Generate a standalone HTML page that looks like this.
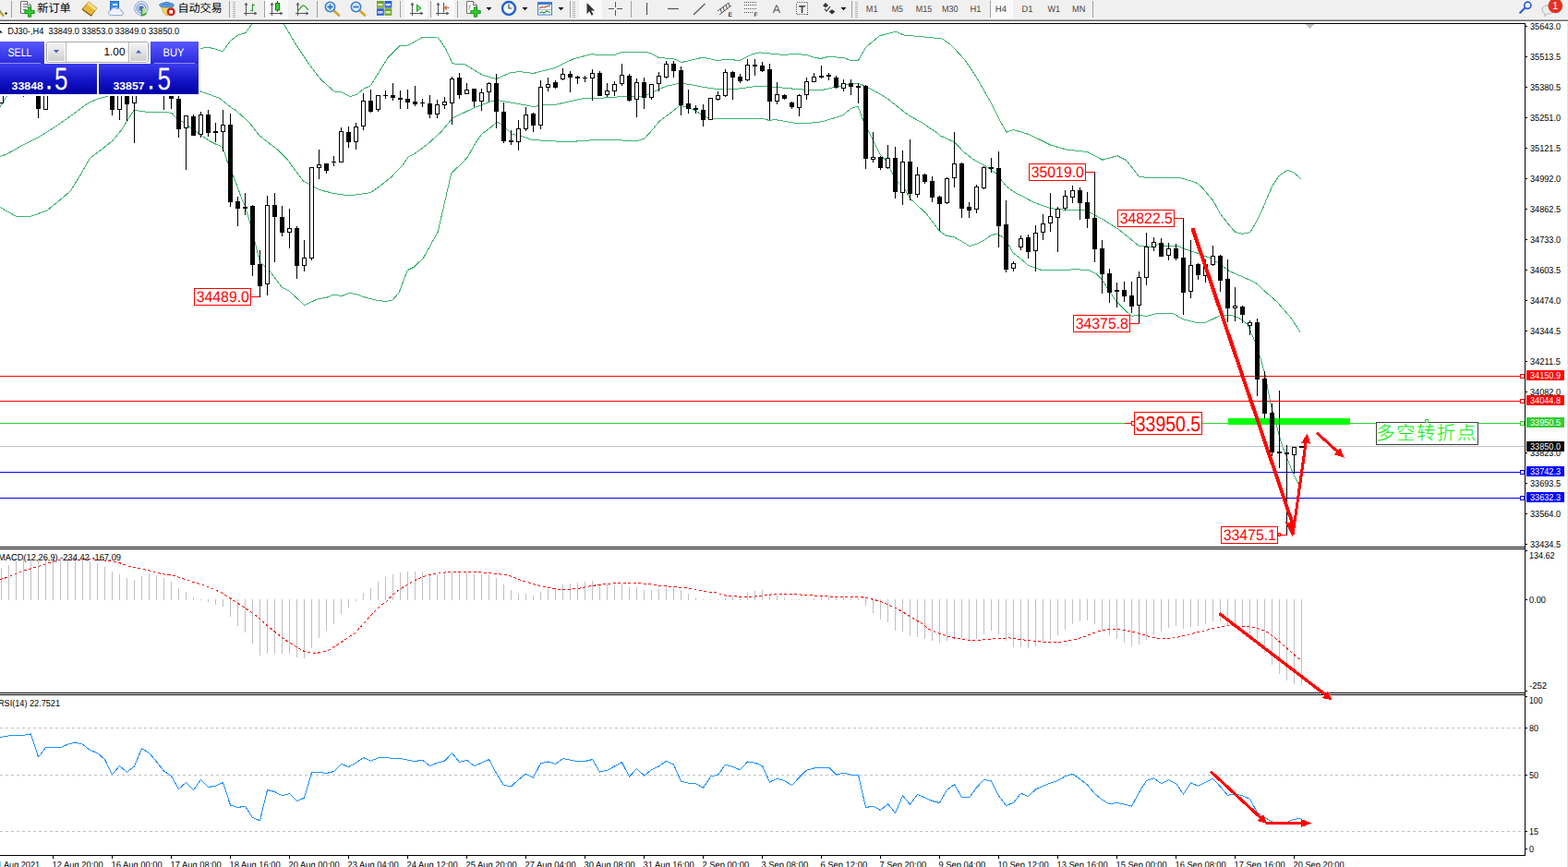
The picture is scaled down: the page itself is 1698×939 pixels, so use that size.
<!DOCTYPE html>
<html><head><meta charset="utf-8"><title>DJ30 H4</title>
<style>
html,body{margin:0;padding:0;background:#fff;}
body{width:1698px;height:939px;overflow:hidden;font-family:"Liberation Sans",sans-serif;}
svg{display:block;position:absolute;left:0;top:0;}
text{font-family:"Liberation Sans",sans-serif;text-rendering:geometricPrecision;}
</style></head><body>
<svg width="1698" height="939" viewBox="0 0 1698 939">
<rect x="0" y="0" width="1698" height="939" fill="#fff"/>
<g fill="none" stroke="#3cb371" stroke-width="1" stroke-linejoin="round" shape-rendering="crispEdges">
<polyline points="0.0,115.6 7.5,104.0 12.0,97.0"/>
<polyline points="217.0,52.5 225.0,51.2 233.0,53.0 241.2,55.8 250.0,43.8 258.0,38.0 266.2,35.5 272.5,26.2 274.0,24.0"/>
<polyline points="306.0,23.0 307.5,26.2 320.0,47.5 335.0,70.0 347.5,86.2 362.5,99.5 370.0,100.0 378.8,104.5 386.2,102.5 393.8,96.2 401.2,93.0 410.0,78.8 420.0,62.5 432.5,50.0 442.5,48.8 457.5,40.5 473.8,40.0 482.5,52.5 490.0,68.8 503.8,70.0 522.5,81.2 537.5,85.5 552.5,78.8 562.5,77.5 577.5,79.5 600.0,73.8 621.0,63.8 641.0,58.5 647.0,59.4 666.0,59.4 673.5,56.2 699.8,56.2 706.0,58.5 713.5,62.5 729.8,63.8 738.5,67.5 761.0,62.2 777.2,65.6 787.2,64.1 801.0,65.6 808.0,62.2 814.0,58.8 822.8,56.9 829.0,57.5 850.2,59.6 859.0,58.1 874.0,59.6 881.5,62.2 889.0,63.4 897.8,61.2 914.0,62.8 921.5,65.4 929.5,65.5 937.5,51.2 952.5,38.8 970.0,34.2 978.8,38.0 1020.0,41.8 1030.0,48.8 1045.0,65.0 1057.5,83.8 1072.5,110.0 1082.5,130.0 1090.0,143.2 1097.5,140.5 1112.5,145.0 1125.0,150.8 1137.5,157.0 1155.0,162.0 1177.5,164.5 1193.8,173.2 1210.0,168.8 1220.0,173.8 1233.8,191.8 1252.5,192.5 1277.5,192.5 1295.0,197.5 1302.0,203.4 1313.8,217.5 1321.2,231.2 1330.0,242.5 1337.5,251.2 1345.0,253.4 1353.8,251.6 1360.0,241.2 1366.2,228.8 1372.5,213.8 1377.5,201.9 1385.0,190.6 1393.8,184.4 1400.0,186.2 1408.8,193.5"/>
<polyline points="0.0,169.4 6.2,167.5 25.0,156.9 42.5,148.1 62.5,135.6 80.0,123.1 95.0,111.9 106.2,106.9 116.2,104.4 120.0,103.0"/>
<polyline points="217.0,98.8 237.5,106.2 250.0,116.2 256.0,120.0 269.8,132.5 281.0,146.9 301.0,162.5 311.0,172.5 321.0,186.2 328.5,196.2 334.8,199.4 346.0,205.6 361.0,209.4 378.5,211.9 401.0,208.8 411.0,201.9 423.5,191.9 436.0,178.8 442.2,170.0 448.0,167.2 463.0,156.2 478.0,142.5 490.0,128.0 513.0,116.9 531.8,109.8 540.0,108.8 556.8,111.6 578.0,115.6 588.0,113.8 600.0,113.5 603.5,112.9 633.5,106.2 646.0,106.6 671.0,104.8 692.2,104.8 702.2,101.9 721.0,93.5 734.8,90.4 746.0,91.2 762.2,94.4 774.8,96.2 796.0,96.6 808.0,95.0 816.5,93.8 829.0,93.5 846.5,95.0 864.0,96.6 879.0,97.8 889.0,97.8 904.0,94.4 916.5,91.9 929.0,90.4 936.5,93.1 945.2,97.5 960.2,106.2 984.0,125.0 999.0,133.1 1016.0,144.8 1018.0,146.9 1033.0,153.5 1044.2,165.0 1055.5,173.8 1066.8,179.4 1079.2,188.1 1089.2,201.2 1097.5,207.5 1120.0,219.4 1137.5,225.6 1152.5,227.2 1173.8,227.2 1180.0,230.0 1195.0,238.1 1212.0,248.8 1233.5,266.5 1246.0,267.2 1254.8,264.4 1262.2,266.5 1276.0,266.5 1283.5,270.0 1299.8,275.0 1311.0,280.0 1319.8,285.0 1331.0,293.5 1346.0,300.0 1359.8,306.2 1373.5,318.8 1383.5,327.5 1398.5,345.0 1408.0,359.8"/>
<polyline points="0.0,224.5 17.0,234.0 34.0,234.0 51.0,228.0 68.0,214.0 76.2,207.0 87.5,188.8 97.5,171.2 110.0,161.9 122.5,151.9 131.2,141.2 137.5,131.2 145.0,119.4 150.0,120.0 158.8,121.2 180.0,121.2 186.2,122.8 191.2,128.1 198.8,132.5 206.2,138.4 212.5,142.5 221.2,148.8 227.5,153.0 233.8,156.2 240.0,158.8 242.5,163.8 246.2,175.0 252.5,190.0 258.8,207.0 261.6,215.0 265.0,222.0 271.0,241.9 276.0,261.9 281.6,283.8 292.2,293.8 305.4,311.2 312.2,314.4 329.8,330.6 344.8,323.5 353.5,322.5 361.0,319.0 369.8,320.6 378.5,317.5 386.0,318.5 393.5,321.5 407.2,325.0 417.2,326.5 425.0,325.0 432.1,316.9 441.2,292.6 448.3,289.2 458.4,279.5 467.5,263.3 474.2,251.2 480.7,222.8 488.8,187.4 500.9,176.3 507.0,169.2 513.0,158.0 521.8,145.0 530.5,138.8 538.0,132.2 543.0,134.4 554.2,145.0 564.2,147.5 576.8,151.6 600.0,152.8 606.0,153.5 621.0,153.5 631.0,152.1 669.8,151.6 678.5,152.5 691.0,152.5 698.0,150.0 706.0,141.2 713.5,131.9 721.0,126.0 728.5,120.6 736.0,114.4 746.0,116.2 758.5,123.1 767.2,128.1 774.8,128.8 808.0,128.5 826.5,128.5 833.4,130.6 839.0,129.4 854.0,132.2 862.8,133.5 875.2,133.5 891.5,131.6 904.0,127.5 912.8,124.8 921.5,117.5 929.0,115.0 934.6,130.0 940.0,141.2 953.0,166.9 959.2,173.8 966.8,188.1 972.4,197.5 980.5,206.2 985.5,215.0 1003.0,231.2 1017.0,250.0 1025.0,255.4 1033.8,256.9 1050.0,266.6 1058.8,263.8 1066.2,259.8 1073.8,254.4 1080.0,253.5 1087.0,257.5 1092.5,265.6 1097.0,273.8 1105.0,280.0 1113.8,287.5 1128.8,292.8 1156.2,292.8 1162.5,291.6 1178.8,292.5 1187.5,296.9 1193.0,302.5 1198.6,311.0 1208.5,326.0 1217.2,334.7 1225.4,342.5 1233.5,341.2 1241.0,342.5 1253.5,339.4 1269.8,339.4 1282.2,346.2 1296.0,349.4 1305.4,349.4 1321.0,341.9 1333.5,341.5 1341.0,343.8 1351.0,351.2 1358.5,368.8 1364.8,387.5 1369.8,405.0 1376.0,437.0 1387.5,480.0 1400.0,512.0 1408.8,530.0"/>
</g>
<g shape-rendering="crispEdges">
<rect x="0" y="407" width="1651" height="1" fill="#ff0000" />
<rect x="0" y="434" width="1651" height="1" fill="#ff0000" />
<rect x="0" y="458" width="1651" height="1" fill="#32cd32" />
<rect x="0" y="483" width="1651" height="1" fill="#c0c0c0" />
<rect x="0" y="511" width="1651" height="1" fill="#0000ff" />
<rect x="0" y="539" width="1651" height="1" fill="#0000ff" />
<rect x="1330" y="453" width="132" height="7" fill="#00ff00" />
</g>
<g shape-rendering="crispEdges">
<rect x="1" y="100" width="1" height="12" fill="#000" />
<rect x="-1" y="100" width="5" height="12" fill="#000" />
<rect x="0" y="101" width="3" height="10" fill="#fff" />
<rect x="25" y="100" width="1" height="5" fill="#000" />
<rect x="41" y="100" width="1" height="28" fill="#000" />
<rect x="39" y="100" width="5" height="18" fill="#000" />
<rect x="49" y="100" width="1" height="19" fill="#000" />
<rect x="47" y="100" width="5" height="19" fill="#000" />
<rect x="48" y="101" width="3" height="17" fill="#fff" />
<rect x="121" y="100" width="1" height="25" fill="#000" />
<rect x="119" y="100" width="5" height="19" fill="#000" />
<rect x="129" y="100" width="1" height="30" fill="#000" />
<rect x="127" y="100" width="5" height="19" fill="#000" />
<rect x="128" y="101" width="3" height="17" fill="#fff" />
<rect x="137" y="100" width="1" height="31" fill="#000" />
<rect x="135" y="100" width="5" height="13" fill="#000" />
<rect x="145" y="100" width="1" height="55" fill="#000" />
<rect x="143" y="100" width="5" height="12" fill="#000" />
<rect x="144" y="101" width="3" height="10" fill="#fff" />
<rect x="177" y="100" width="1" height="19" fill="#000" />
<rect x="185" y="100" width="1" height="18" fill="#000" />
<rect x="183" y="104" width="5" height="3" fill="#000" />
<rect x="193" y="100" width="1" height="49" fill="#000" />
<rect x="191" y="107" width="5" height="33" fill="#000" />
<rect x="201" y="125" width="1" height="59" fill="#000" />
<rect x="199" y="125" width="5" height="14" fill="#000" />
<rect x="200" y="126" width="3" height="12" fill="#fff" />
<rect x="209" y="124" width="1" height="23" fill="#000" />
<rect x="207" y="126" width="5" height="21" fill="#000" />
<rect x="217" y="121" width="1" height="28" fill="#000" />
<rect x="215" y="124" width="5" height="22" fill="#000" />
<rect x="216" y="125" width="3" height="20" fill="#fff" />
<rect x="225" y="119" width="1" height="29" fill="#000" />
<rect x="223" y="124" width="5" height="20" fill="#000" />
<rect x="233" y="133" width="1" height="21" fill="#000" />
<rect x="231" y="142" width="5" height="2" fill="#000" />
<rect x="241" y="119" width="1" height="45" fill="#000" />
<rect x="239" y="135" width="5" height="8" fill="#000" />
<rect x="240" y="136" width="3" height="6" fill="#fff" />
<rect x="249" y="123" width="1" height="101" fill="#000" />
<rect x="247" y="135" width="5" height="84" fill="#000" />
<rect x="257" y="213" width="1" height="32" fill="#000" />
<rect x="255" y="218" width="5" height="8" fill="#000" />
<rect x="265" y="209" width="1" height="24" fill="#000" />
<rect x="263" y="224" width="5" height="2" fill="#000" />
<rect x="273" y="222" width="1" height="77" fill="#000" />
<rect x="271" y="223" width="5" height="64" fill="#000" />
<rect x="281" y="271" width="1" height="51" fill="#000" />
<rect x="279" y="286" width="5" height="24" fill="#000" />
<rect x="289" y="212" width="1" height="108" fill="#000" />
<rect x="287" y="222" width="5" height="86" fill="#000" />
<rect x="288" y="223" width="3" height="84" fill="#fff" />
<rect x="297" y="209" width="1" height="75" fill="#000" />
<rect x="295" y="222" width="5" height="13" fill="#000" />
<rect x="305" y="223" width="1" height="33" fill="#000" />
<rect x="303" y="235" width="5" height="17" fill="#000" />
<rect x="313" y="226" width="1" height="43" fill="#000" />
<rect x="311" y="247" width="5" height="5" fill="#000" />
<rect x="312" y="248" width="3" height="3" fill="#fff" />
<rect x="321" y="245" width="1" height="57" fill="#000" />
<rect x="319" y="247" width="5" height="41" fill="#000" />
<rect x="329" y="260" width="1" height="34" fill="#000" />
<rect x="327" y="279" width="5" height="9" fill="#000" />
<rect x="328" y="280" width="3" height="7" fill="#fff" />
<rect x="337" y="181" width="1" height="101" fill="#000" />
<rect x="335" y="181" width="5" height="99" fill="#000" />
<rect x="336" y="182" width="3" height="97" fill="#fff" />
<rect x="345" y="162" width="1" height="32" fill="#000" />
<rect x="343" y="178" width="5" height="4" fill="#000" />
<rect x="344" y="179" width="3" height="2" fill="#fff" />
<rect x="353" y="177" width="1" height="11" fill="#000" />
<rect x="351" y="177" width="5" height="8" fill="#000" />
<rect x="361" y="169" width="1" height="11" fill="#000" />
<rect x="359" y="175" width="5" height="1" fill="#000" />
<rect x="369" y="138" width="1" height="38" fill="#000" />
<rect x="367" y="142" width="5" height="34" fill="#000" />
<rect x="368" y="143" width="3" height="32" fill="#fff" />
<rect x="377" y="137" width="1" height="23" fill="#000" />
<rect x="375" y="143" width="5" height="11" fill="#000" />
<rect x="385" y="133" width="1" height="29" fill="#000" />
<rect x="383" y="137" width="5" height="17" fill="#000" />
<rect x="384" y="138" width="3" height="15" fill="#fff" />
<rect x="393" y="101" width="1" height="40" fill="#000" />
<rect x="391" y="109" width="5" height="28" fill="#000" />
<rect x="392" y="110" width="3" height="26" fill="#fff" />
<rect x="401" y="97" width="1" height="25" fill="#000" />
<rect x="399" y="109" width="5" height="12" fill="#000" />
<rect x="409" y="103" width="1" height="18" fill="#000" />
<rect x="407" y="103" width="5" height="16" fill="#000" />
<rect x="408" y="104" width="3" height="14" fill="#fff" />
<rect x="417" y="98" width="1" height="9" fill="#000" />
<rect x="415" y="103" width="5" height="1" fill="#000" />
<rect x="425" y="90" width="1" height="19" fill="#000" />
<rect x="423" y="103" width="5" height="3" fill="#000" />
<rect x="433" y="98" width="1" height="20" fill="#000" />
<rect x="431" y="106" width="5" height="2" fill="#000" />
<rect x="441" y="97" width="1" height="21" fill="#000" />
<rect x="439" y="107" width="5" height="4" fill="#000" />
<rect x="449" y="93" width="1" height="22" fill="#000" />
<rect x="447" y="110" width="5" height="3" fill="#000" />
<rect x="457" y="107" width="1" height="9" fill="#000" />
<rect x="455" y="111" width="5" height="1" fill="#000" />
<rect x="465" y="103" width="1" height="25" fill="#000" />
<rect x="463" y="112" width="5" height="12" fill="#000" />
<rect x="473" y="108" width="1" height="20" fill="#000" />
<rect x="471" y="113" width="5" height="11" fill="#000" />
<rect x="472" y="114" width="3" height="9" fill="#fff" />
<rect x="481" y="105" width="1" height="13" fill="#000" />
<rect x="479" y="110" width="5" height="4" fill="#000" />
<rect x="480" y="111" width="3" height="2" fill="#fff" />
<rect x="489" y="83" width="1" height="52" fill="#000" />
<rect x="487" y="85" width="5" height="27" fill="#000" />
<rect x="488" y="86" width="3" height="25" fill="#fff" />
<rect x="497" y="79" width="1" height="28" fill="#000" />
<rect x="495" y="84" width="5" height="19" fill="#000" />
<rect x="505" y="90" width="1" height="12" fill="#000" />
<rect x="503" y="97" width="5" height="5" fill="#000" />
<rect x="504" y="98" width="3" height="3" fill="#fff" />
<rect x="513" y="96" width="1" height="20" fill="#000" />
<rect x="511" y="96" width="5" height="14" fill="#000" />
<rect x="521" y="96" width="1" height="24" fill="#000" />
<rect x="519" y="100" width="5" height="10" fill="#000" />
<rect x="520" y="101" width="3" height="8" fill="#fff" />
<rect x="529" y="89" width="1" height="21" fill="#000" />
<rect x="527" y="90" width="5" height="10" fill="#000" />
<rect x="528" y="91" width="3" height="8" fill="#fff" />
<rect x="537" y="80" width="1" height="59" fill="#000" />
<rect x="535" y="90" width="5" height="31" fill="#000" />
<rect x="545" y="111" width="1" height="44" fill="#000" />
<rect x="543" y="121" width="5" height="32" fill="#000" />
<rect x="553" y="141" width="1" height="16" fill="#000" />
<rect x="551" y="152" width="5" height="2" fill="#000" />
<rect x="561" y="130" width="1" height="33" fill="#000" />
<rect x="559" y="139" width="5" height="15" fill="#000" />
<rect x="560" y="140" width="3" height="13" fill="#fff" />
<rect x="569" y="116" width="1" height="26" fill="#000" />
<rect x="567" y="124" width="5" height="16" fill="#000" />
<rect x="568" y="125" width="3" height="14" fill="#fff" />
<rect x="577" y="122" width="1" height="21" fill="#000" />
<rect x="575" y="123" width="5" height="13" fill="#000" />
<rect x="585" y="87" width="1" height="53" fill="#000" />
<rect x="583" y="94" width="5" height="42" fill="#000" />
<rect x="584" y="95" width="3" height="40" fill="#fff" />
<rect x="593" y="84" width="1" height="15" fill="#000" />
<rect x="591" y="91" width="5" height="4" fill="#000" />
<rect x="592" y="92" width="3" height="2" fill="#fff" />
<rect x="601" y="87" width="1" height="9" fill="#000" />
<rect x="599" y="89" width="5" height="6" fill="#000" />
<rect x="609" y="74" width="1" height="13" fill="#000" />
<rect x="607" y="80" width="5" height="6" fill="#000" />
<rect x="608" y="81" width="3" height="4" fill="#fff" />
<rect x="617" y="77" width="1" height="23" fill="#000" />
<rect x="615" y="80" width="5" height="4" fill="#000" />
<rect x="625" y="82" width="1" height="9" fill="#000" />
<rect x="623" y="83" width="5" height="2" fill="#000" />
<rect x="633" y="82" width="1" height="7" fill="#000" />
<rect x="631" y="84" width="5" height="1" fill="#000" />
<rect x="641" y="75" width="1" height="34" fill="#000" />
<rect x="639" y="79" width="5" height="6" fill="#000" />
<rect x="640" y="80" width="3" height="4" fill="#fff" />
<rect x="649" y="77" width="1" height="27" fill="#000" />
<rect x="647" y="79" width="5" height="25" fill="#000" />
<rect x="657" y="90" width="1" height="15" fill="#000" />
<rect x="655" y="98" width="5" height="5" fill="#000" />
<rect x="656" y="99" width="3" height="3" fill="#fff" />
<rect x="665" y="88" width="1" height="16" fill="#000" />
<rect x="663" y="91" width="5" height="8" fill="#000" />
<rect x="664" y="92" width="3" height="6" fill="#fff" />
<rect x="673" y="69" width="1" height="24" fill="#000" />
<rect x="671" y="81" width="5" height="10" fill="#000" />
<rect x="672" y="82" width="3" height="8" fill="#fff" />
<rect x="681" y="80" width="1" height="30" fill="#000" />
<rect x="679" y="82" width="5" height="27" fill="#000" />
<rect x="689" y="85" width="1" height="42" fill="#000" />
<rect x="687" y="89" width="5" height="19" fill="#000" />
<rect x="688" y="90" width="3" height="17" fill="#fff" />
<rect x="697" y="84" width="1" height="34" fill="#000" />
<rect x="695" y="89" width="5" height="17" fill="#000" />
<rect x="705" y="91" width="1" height="17" fill="#000" />
<rect x="703" y="91" width="5" height="15" fill="#000" />
<rect x="704" y="92" width="3" height="13" fill="#fff" />
<rect x="713" y="78" width="1" height="21" fill="#000" />
<rect x="711" y="82" width="5" height="9" fill="#000" />
<rect x="712" y="83" width="3" height="7" fill="#fff" />
<rect x="721" y="66" width="1" height="19" fill="#000" />
<rect x="719" y="69" width="5" height="15" fill="#000" />
<rect x="720" y="70" width="3" height="13" fill="#fff" />
<rect x="729" y="66" width="1" height="18" fill="#000" />
<rect x="727" y="69" width="5" height="8" fill="#000" />
<rect x="737" y="72" width="1" height="53" fill="#000" />
<rect x="735" y="76" width="5" height="38" fill="#000" />
<rect x="745" y="97" width="1" height="26" fill="#000" />
<rect x="743" y="112" width="5" height="6" fill="#000" />
<rect x="753" y="114" width="1" height="9" fill="#000" />
<rect x="751" y="117" width="5" height="2" fill="#000" />
<rect x="761" y="113" width="1" height="24" fill="#000" />
<rect x="759" y="119" width="5" height="11" fill="#000" />
<rect x="769" y="106" width="1" height="24" fill="#000" />
<rect x="767" y="106" width="5" height="24" fill="#000" />
<rect x="768" y="107" width="3" height="22" fill="#fff" />
<rect x="777" y="99" width="1" height="10" fill="#000" />
<rect x="775" y="103" width="5" height="5" fill="#000" />
<rect x="776" y="104" width="3" height="3" fill="#fff" />
<rect x="785" y="75" width="1" height="30" fill="#000" />
<rect x="783" y="78" width="5" height="26" fill="#000" />
<rect x="784" y="79" width="3" height="24" fill="#fff" />
<rect x="793" y="77" width="1" height="31" fill="#000" />
<rect x="791" y="78" width="5" height="6" fill="#000" />
<rect x="801" y="80" width="1" height="10" fill="#000" />
<rect x="799" y="83" width="5" height="5" fill="#000" />
<rect x="809" y="64" width="1" height="24" fill="#000" />
<rect x="807" y="70" width="5" height="17" fill="#000" />
<rect x="808" y="71" width="3" height="15" fill="#fff" />
<rect x="817" y="64" width="1" height="18" fill="#000" />
<rect x="815" y="70" width="5" height="2" fill="#000" />
<rect x="825" y="67" width="1" height="11" fill="#000" />
<rect x="823" y="71" width="5" height="6" fill="#000" />
<rect x="833" y="69" width="1" height="61" fill="#000" />
<rect x="831" y="75" width="5" height="35" fill="#000" />
<rect x="841" y="89" width="1" height="24" fill="#000" />
<rect x="839" y="102" width="5" height="8" fill="#000" />
<rect x="840" y="103" width="3" height="6" fill="#fff" />
<rect x="849" y="102" width="1" height="6" fill="#000" />
<rect x="847" y="103" width="5" height="4" fill="#000" />
<rect x="857" y="110" width="1" height="8" fill="#000" />
<rect x="855" y="111" width="5" height="5" fill="#000" />
<rect x="865" y="102" width="1" height="24" fill="#000" />
<rect x="863" y="103" width="5" height="14" fill="#000" />
<rect x="864" y="104" width="3" height="12" fill="#fff" />
<rect x="873" y="84" width="1" height="24" fill="#000" />
<rect x="871" y="88" width="5" height="15" fill="#000" />
<rect x="872" y="89" width="3" height="13" fill="#fff" />
<rect x="881" y="79" width="1" height="10" fill="#000" />
<rect x="879" y="83" width="5" height="6" fill="#000" />
<rect x="880" y="84" width="3" height="4" fill="#fff" />
<rect x="889" y="71" width="1" height="14" fill="#000" />
<rect x="887" y="82" width="5" height="2" fill="#000" />
<rect x="897" y="79" width="1" height="8" fill="#000" />
<rect x="895" y="81" width="5" height="2" fill="#000" />
<rect x="905" y="82" width="1" height="14" fill="#000" />
<rect x="903" y="84" width="5" height="11" fill="#000" />
<rect x="913" y="86" width="1" height="13" fill="#000" />
<rect x="911" y="90" width="5" height="6" fill="#000" />
<rect x="912" y="91" width="3" height="4" fill="#fff" />
<rect x="921" y="86" width="1" height="17" fill="#000" />
<rect x="919" y="90" width="5" height="4" fill="#000" />
<rect x="929" y="90" width="1" height="22" fill="#000" />
<rect x="927" y="93" width="5" height="2" fill="#000" />
<rect x="937" y="92" width="1" height="91" fill="#000" />
<rect x="935" y="93" width="5" height="79" fill="#000" />
<rect x="945" y="143" width="1" height="33" fill="#000" />
<rect x="943" y="170" width="5" height="3" fill="#000" />
<rect x="944" y="171" width="3" height="1" fill="#fff" />
<rect x="953" y="169" width="1" height="15" fill="#000" />
<rect x="951" y="170" width="5" height="12" fill="#000" />
<rect x="961" y="157" width="1" height="26" fill="#000" />
<rect x="959" y="171" width="5" height="11" fill="#000" />
<rect x="960" y="172" width="3" height="9" fill="#fff" />
<rect x="969" y="159" width="1" height="56" fill="#000" />
<rect x="967" y="171" width="5" height="37" fill="#000" />
<rect x="977" y="163" width="1" height="59" fill="#000" />
<rect x="975" y="175" width="5" height="34" fill="#000" />
<rect x="976" y="176" width="3" height="32" fill="#fff" />
<rect x="985" y="151" width="1" height="66" fill="#000" />
<rect x="983" y="175" width="5" height="35" fill="#000" />
<rect x="993" y="181" width="1" height="33" fill="#000" />
<rect x="991" y="189" width="5" height="22" fill="#000" />
<rect x="992" y="190" width="3" height="20" fill="#fff" />
<rect x="1001" y="188" width="1" height="11" fill="#000" />
<rect x="999" y="189" width="5" height="8" fill="#000" />
<rect x="1009" y="191" width="1" height="28" fill="#000" />
<rect x="1007" y="196" width="5" height="18" fill="#000" />
<rect x="1017" y="212" width="1" height="38" fill="#000" />
<rect x="1015" y="213" width="5" height="8" fill="#000" />
<rect x="1025" y="192" width="1" height="29" fill="#000" />
<rect x="1023" y="193" width="5" height="27" fill="#000" />
<rect x="1024" y="194" width="3" height="25" fill="#fff" />
<rect x="1033" y="143" width="1" height="60" fill="#000" />
<rect x="1031" y="177" width="5" height="16" fill="#000" />
<rect x="1032" y="178" width="3" height="14" fill="#fff" />
<rect x="1041" y="176" width="1" height="60" fill="#000" />
<rect x="1039" y="177" width="5" height="49" fill="#000" />
<rect x="1049" y="219" width="1" height="17" fill="#000" />
<rect x="1047" y="224" width="5" height="4" fill="#000" />
<rect x="1057" y="200" width="1" height="31" fill="#000" />
<rect x="1055" y="202" width="5" height="25" fill="#000" />
<rect x="1056" y="203" width="3" height="23" fill="#fff" />
<rect x="1065" y="180" width="1" height="25" fill="#000" />
<rect x="1063" y="181" width="5" height="23" fill="#000" />
<rect x="1064" y="182" width="3" height="21" fill="#fff" />
<rect x="1073" y="171" width="1" height="16" fill="#000" />
<rect x="1071" y="181" width="5" height="2" fill="#000" />
<rect x="1081" y="164" width="1" height="104" fill="#000" />
<rect x="1079" y="182" width="5" height="63" fill="#000" />
<rect x="1089" y="217" width="1" height="78" fill="#000" />
<rect x="1087" y="243" width="5" height="49" fill="#000" />
<rect x="1097" y="283" width="1" height="11" fill="#000" />
<rect x="1095" y="285" width="5" height="6" fill="#000" />
<rect x="1096" y="286" width="3" height="4" fill="#fff" />
<rect x="1105" y="255" width="1" height="16" fill="#000" />
<rect x="1103" y="258" width="5" height="10" fill="#000" />
<rect x="1104" y="259" width="3" height="8" fill="#fff" />
<rect x="1113" y="254" width="1" height="26" fill="#000" />
<rect x="1111" y="257" width="5" height="16" fill="#000" />
<rect x="1121" y="244" width="1" height="50" fill="#000" />
<rect x="1119" y="252" width="5" height="20" fill="#000" />
<rect x="1120" y="253" width="3" height="18" fill="#fff" />
<rect x="1129" y="232" width="1" height="28" fill="#000" />
<rect x="1127" y="242" width="5" height="10" fill="#000" />
<rect x="1128" y="243" width="3" height="8" fill="#fff" />
<rect x="1137" y="209" width="1" height="42" fill="#000" />
<rect x="1135" y="234" width="5" height="8" fill="#000" />
<rect x="1136" y="235" width="3" height="6" fill="#fff" />
<rect x="1145" y="224" width="1" height="49" fill="#000" />
<rect x="1143" y="226" width="5" height="10" fill="#000" />
<rect x="1144" y="227" width="3" height="8" fill="#fff" />
<rect x="1153" y="206" width="1" height="22" fill="#000" />
<rect x="1151" y="212" width="5" height="14" fill="#000" />
<rect x="1152" y="213" width="3" height="12" fill="#fff" />
<rect x="1161" y="201" width="1" height="19" fill="#000" />
<rect x="1159" y="206" width="5" height="8" fill="#000" />
<rect x="1160" y="207" width="3" height="6" fill="#fff" />
<rect x="1169" y="203" width="1" height="35" fill="#000" />
<rect x="1167" y="206" width="5" height="14" fill="#000" />
<rect x="1177" y="208" width="1" height="39" fill="#000" />
<rect x="1175" y="219" width="5" height="18" fill="#000" />
<rect x="1185" y="186" width="1" height="98" fill="#000" />
<rect x="1183" y="236" width="5" height="34" fill="#000" />
<rect x="1193" y="260" width="1" height="58" fill="#000" />
<rect x="1191" y="269" width="5" height="28" fill="#000" />
<rect x="1201" y="291" width="1" height="37" fill="#000" />
<rect x="1199" y="296" width="5" height="21" fill="#000" />
<rect x="1209" y="306" width="1" height="27" fill="#000" />
<rect x="1207" y="314" width="5" height="2" fill="#000" />
<rect x="1217" y="305" width="1" height="22" fill="#000" />
<rect x="1215" y="314" width="5" height="7" fill="#000" />
<rect x="1225" y="305" width="1" height="34" fill="#000" />
<rect x="1223" y="320" width="5" height="12" fill="#000" />
<rect x="1233" y="294" width="1" height="56" fill="#000" />
<rect x="1231" y="300" width="5" height="31" fill="#000" />
<rect x="1232" y="301" width="3" height="29" fill="#fff" />
<rect x="1241" y="252" width="1" height="57" fill="#000" />
<rect x="1239" y="267" width="5" height="34" fill="#000" />
<rect x="1240" y="268" width="3" height="32" fill="#fff" />
<rect x="1249" y="257" width="1" height="15" fill="#000" />
<rect x="1247" y="262" width="5" height="6" fill="#000" />
<rect x="1248" y="263" width="3" height="4" fill="#fff" />
<rect x="1257" y="258" width="1" height="20" fill="#000" />
<rect x="1255" y="263" width="5" height="15" fill="#000" />
<rect x="1265" y="263" width="1" height="19" fill="#000" />
<rect x="1263" y="269" width="5" height="8" fill="#000" />
<rect x="1264" y="270" width="3" height="6" fill="#fff" />
<rect x="1273" y="264" width="1" height="18" fill="#000" />
<rect x="1271" y="269" width="5" height="11" fill="#000" />
<rect x="1281" y="236" width="1" height="105" fill="#000" />
<rect x="1279" y="279" width="5" height="38" fill="#000" />
<rect x="1289" y="260" width="1" height="63" fill="#000" />
<rect x="1287" y="287" width="5" height="29" fill="#000" />
<rect x="1288" y="288" width="3" height="27" fill="#fff" />
<rect x="1297" y="285" width="1" height="18" fill="#000" />
<rect x="1295" y="286" width="5" height="12" fill="#000" />
<rect x="1305" y="281" width="1" height="25" fill="#000" />
<rect x="1303" y="286" width="5" height="13" fill="#000" />
<rect x="1304" y="287" width="3" height="11" fill="#fff" />
<rect x="1313" y="266" width="1" height="22" fill="#000" />
<rect x="1311" y="277" width="5" height="10" fill="#000" />
<rect x="1312" y="278" width="3" height="8" fill="#fff" />
<rect x="1321" y="276" width="1" height="40" fill="#000" />
<rect x="1319" y="277" width="5" height="27" fill="#000" />
<rect x="1329" y="281" width="1" height="68" fill="#000" />
<rect x="1327" y="302" width="5" height="32" fill="#000" />
<rect x="1337" y="311" width="1" height="37" fill="#000" />
<rect x="1335" y="331" width="5" height="3" fill="#000" />
<rect x="1336" y="332" width="3" height="1" fill="#fff" />
<rect x="1345" y="331" width="1" height="19" fill="#000" />
<rect x="1343" y="332" width="5" height="9" fill="#000" />
<rect x="1353" y="347" width="1" height="16" fill="#000" />
<rect x="1351" y="349" width="5" height="4" fill="#000" />
<rect x="1352" y="350" width="3" height="2" fill="#fff" />
<rect x="1361" y="345" width="1" height="84" fill="#000" />
<rect x="1359" y="349" width="5" height="62" fill="#000" />
<rect x="1369" y="402" width="1" height="51" fill="#000" />
<rect x="1367" y="410" width="5" height="38" fill="#000" />
<rect x="1377" y="437" width="1" height="57" fill="#000" />
<rect x="1375" y="447" width="5" height="43" fill="#000" />
<rect x="1385" y="423" width="1" height="84" fill="#000" />
<rect x="1383" y="489" width="5" height="2" fill="#000" />
<rect x="1393" y="482" width="1" height="98" fill="#000" />
<rect x="1391" y="490" width="5" height="2" fill="#000" />
<rect x="1401" y="484" width="1" height="29" fill="#000" />
<rect x="1399" y="484" width="5" height="9" fill="#000" />
<rect x="1400" y="485" width="3" height="7" fill="#fff" />
<rect x="1409" y="483" width="1" height="2" fill="#000" />
<rect x="1407" y="483" width="5" height="2" fill="#000" />
</g>
<g shape-rendering="crispEdges">
<rect x="272" y="321" width="9" height="1" fill="#ff0000" />
<rect x="1176" y="186" width="10" height="1" fill="#ff0000" />
<rect x="1272" y="236" width="10" height="1" fill="#ff0000" />
<rect x="1224" y="350" width="10" height="1" fill="#ff0000" />
<rect x="1384" y="579" width="10" height="1" fill="#ff0000" />
<rect x="1218" y="458" width="8" height="1" fill="#ff0000" />
</g>
<rect x="210.5" y="312.5" width="61" height="18" fill="#fff" stroke="#ff0000" stroke-width="1" shape-rendering="crispEdges"/>
<text x="212.8" y="327.4" font-size="16.6" fill="#ff0000" textLength="57" lengthAdjust="spacingAndGlyphs" >34489.0</text>
<rect x="1114.5" y="177.5" width="61" height="18" fill="#fff" stroke="#ff0000" stroke-width="1" shape-rendering="crispEdges"/>
<text x="1116.8" y="192.4" font-size="16.6" fill="#ff0000" textLength="57" lengthAdjust="spacingAndGlyphs" >35019.0</text>
<rect x="1210.5" y="227.5" width="61" height="18" fill="#fff" stroke="#ff0000" stroke-width="1" shape-rendering="crispEdges"/>
<text x="1212.8" y="242.4" font-size="16.6" fill="#ff0000" textLength="57" lengthAdjust="spacingAndGlyphs" >34822.5</text>
<rect x="1162.5" y="341.5" width="61" height="18" fill="#fff" stroke="#ff0000" stroke-width="1" shape-rendering="crispEdges"/>
<text x="1164.8" y="356.4" font-size="16.6" fill="#ff0000" textLength="57" lengthAdjust="spacingAndGlyphs" >34375.8</text>
<rect x="1322.5" y="570.5" width="61" height="18" fill="#fff" stroke="#ff0000" stroke-width="1" shape-rendering="crispEdges"/>
<text x="1324.8" y="585.4" font-size="16.6" fill="#ff0000" textLength="57" lengthAdjust="spacingAndGlyphs" >33475.1</text>
<rect x="1228.5" y="446.5" width="73" height="24" fill="#fff" stroke="#ff0000" stroke-width="1" shape-rendering="crispEdges"/>
<text x="1229.7" y="466.9" font-size="23.2" fill="#ff0000" textLength="70.5" lengthAdjust="spacingAndGlyphs" >33950.5</text>
<rect x="1225.5" y="456.5" width="3" height="4" fill="#fff" stroke="#ff0000" stroke-width="1" shape-rendering="crispEdges"/>
<rect x="1384.5" y="577.5" width="2" height="3" fill="#fff" stroke="#ff0000" stroke-width="1" shape-rendering="crispEdges"/>
<rect x="1490.5" y="457.5" width="110" height="24" fill="#fff" stroke="#404040" stroke-width="1" shape-rendering="crispEdges"/>
<text x="1490 1511.95 1533.9 1555.85 1577.8" y="476.34" font-size="20.5" fill="#00f000" style="font-family:'Liberation Sans','Noto Sans CJK SC',sans-serif;font-weight:300">多空转折点</text>
<rect x="1543.5" y="454.5" width="3" height="3" fill="#fff" stroke="#32cd32" stroke-width="1" shape-rendering="crispEdges"/>
<g shape-rendering="crispEdges">
<rect x="0" y="25" width="1652" height="1" fill="#000" />
<rect x="1651" y="25" width="1" height="902" fill="#000" />
<rect x="0" y="592" width="1652" height="1" fill="#000" />
<rect x="0" y="594" width="1652" height="1" fill="#000" />
<rect x="0" y="750" width="1652" height="1" fill="#000" />
<rect x="0" y="752" width="1652" height="1" fill="#000" />
<rect x="0" y="926" width="1652" height="1" fill="#000" />
<rect x="1697" y="23" width="1" height="916" fill="#e3e3e3" />
</g>
<polygon points="1413,26 1423,26 1418,31" fill="#c0c0c0" shape-rendering="crispEdges"/>
<g shape-rendering="crispEdges">
<rect x="1652" y="28" width="2" height="1" fill="#000" />
<rect x="1652" y="61" width="2" height="1" fill="#000" />
<rect x="1652" y="94" width="2" height="1" fill="#000" />
<rect x="1652" y="127" width="2" height="1" fill="#000" />
<rect x="1652" y="160" width="2" height="1" fill="#000" />
<rect x="1652" y="193" width="2" height="1" fill="#000" />
<rect x="1652" y="226" width="2" height="1" fill="#000" />
<rect x="1652" y="259" width="2" height="1" fill="#000" />
<rect x="1652" y="292" width="2" height="1" fill="#000" />
<rect x="1652" y="325" width="2" height="1" fill="#000" />
<rect x="1652" y="358" width="2" height="1" fill="#000" />
<rect x="1652" y="391" width="2" height="1" fill="#000" />
<rect x="1652" y="424" width="2" height="1" fill="#000" />
<rect x="1652" y="490" width="2" height="1" fill="#000" />
<rect x="1652" y="523" width="2" height="1" fill="#000" />
<rect x="1652" y="556" width="2" height="1" fill="#000" />
<rect x="1652" y="589" width="2" height="1" fill="#000" />
</g>
<text x="1657" y="31.9" font-size="10.2" fill="#000" textLength="33" lengthAdjust="spacingAndGlyphs" >35643.0</text>
<text x="1657" y="64.9" font-size="10.2" fill="#000" textLength="33" lengthAdjust="spacingAndGlyphs" >35513.5</text>
<text x="1657" y="97.9" font-size="10.2" fill="#000" textLength="33" lengthAdjust="spacingAndGlyphs" >35380.5</text>
<text x="1657" y="130.9" font-size="10.2" fill="#000" textLength="33" lengthAdjust="spacingAndGlyphs" >35251.0</text>
<text x="1657" y="163.9" font-size="10.2" fill="#000" textLength="33" lengthAdjust="spacingAndGlyphs" >35121.5</text>
<text x="1657" y="196.9" font-size="10.2" fill="#000" textLength="33" lengthAdjust="spacingAndGlyphs" >34992.0</text>
<text x="1657" y="229.9" font-size="10.2" fill="#000" textLength="33" lengthAdjust="spacingAndGlyphs" >34862.5</text>
<text x="1657" y="262.9" font-size="10.2" fill="#000" textLength="33" lengthAdjust="spacingAndGlyphs" >34733.0</text>
<text x="1657" y="295.9" font-size="10.2" fill="#000" textLength="33" lengthAdjust="spacingAndGlyphs" >34603.5</text>
<text x="1657" y="328.9" font-size="10.2" fill="#000" textLength="33" lengthAdjust="spacingAndGlyphs" >34474.0</text>
<text x="1657" y="361.9" font-size="10.2" fill="#000" textLength="33" lengthAdjust="spacingAndGlyphs" >34344.5</text>
<text x="1657" y="394.9" font-size="10.2" fill="#000" textLength="33" lengthAdjust="spacingAndGlyphs" >34211.5</text>
<text x="1657" y="427.9" font-size="10.2" fill="#000" textLength="33" lengthAdjust="spacingAndGlyphs" >34082.0</text>
<text x="1657" y="493.9" font-size="10.2" fill="#000" textLength="33" lengthAdjust="spacingAndGlyphs" >33823.0</text>
<text x="1657" y="526.9" font-size="10.2" fill="#000" textLength="33" lengthAdjust="spacingAndGlyphs" >33693.5</text>
<text x="1657" y="559.9" font-size="10.2" fill="#000" textLength="33" lengthAdjust="spacingAndGlyphs" >33564.0</text>
<text x="1657" y="592.9" font-size="10.2" fill="#000" textLength="33" lengthAdjust="spacingAndGlyphs" >33434.5</text>
<rect x="1653" y="401" width="41" height="11" fill="#ff0000" shape-rendering="crispEdges"/>
<text x="1657" y="409.9" font-size="10.2" fill="#fff" textLength="33" lengthAdjust="spacingAndGlyphs" >34150.9</text>
<rect x="1646.5" y="405.5" width="4" height="4" fill="#fff" stroke="#ff0000" stroke-width="1" shape-rendering="crispEdges"/>
<rect x="1653" y="428" width="41" height="11" fill="#ff0000" shape-rendering="crispEdges"/>
<text x="1657" y="436.9" font-size="10.2" fill="#fff" textLength="33" lengthAdjust="spacingAndGlyphs" >34044.8</text>
<rect x="1646.5" y="432.5" width="4" height="4" fill="#fff" stroke="#ff0000" stroke-width="1" shape-rendering="crispEdges"/>
<rect x="1653" y="452" width="41" height="11" fill="#32cd32" shape-rendering="crispEdges"/>
<text x="1657" y="460.9" font-size="10.2" fill="#fff" textLength="33" lengthAdjust="spacingAndGlyphs" >33950.5</text>
<rect x="1646.5" y="456.5" width="4" height="4" fill="#fff" stroke="#32cd32" stroke-width="1" shape-rendering="crispEdges"/>
<rect x="1653" y="478" width="41" height="11" fill="#000000" shape-rendering="crispEdges"/>
<text x="1657" y="486.9" font-size="10.2" fill="#fff" textLength="33" lengthAdjust="spacingAndGlyphs" >33850.0</text>
<rect x="1653" y="505" width="41" height="11" fill="#0000ff" shape-rendering="crispEdges"/>
<text x="1657" y="513.9" font-size="10.2" fill="#fff" textLength="33" lengthAdjust="spacingAndGlyphs" >33742.3</text>
<rect x="1646.5" y="509.5" width="4" height="4" fill="#fff" stroke="#0000ff" stroke-width="1" shape-rendering="crispEdges"/>
<rect x="1653" y="533" width="41" height="11" fill="#0000ff" shape-rendering="crispEdges"/>
<text x="1657" y="541.9" font-size="10.2" fill="#fff" textLength="33" lengthAdjust="spacingAndGlyphs" >33632.3</text>
<rect x="1646.5" y="537.5" width="4" height="4" fill="#fff" stroke="#0000ff" stroke-width="1" shape-rendering="crispEdges"/>
<g shape-rendering="crispEdges">
<rect x="1" y="615" width="1" height="35" fill="#c0c0c0" />
<rect x="9" y="612" width="1" height="38" fill="#c0c0c0" />
<rect x="17" y="608" width="1" height="42" fill="#c0c0c0" />
<rect x="25" y="605" width="1" height="45" fill="#c0c0c0" />
<rect x="33" y="604" width="1" height="46" fill="#c0c0c0" />
<rect x="41" y="604" width="1" height="46" fill="#c0c0c0" />
<rect x="49" y="604" width="1" height="46" fill="#c0c0c0" />
<rect x="57" y="604" width="1" height="46" fill="#c0c0c0" />
<rect x="65" y="605" width="1" height="45" fill="#c0c0c0" />
<rect x="73" y="606" width="1" height="44" fill="#c0c0c0" />
<rect x="81" y="606" width="1" height="44" fill="#c0c0c0" />
<rect x="89" y="607" width="1" height="43" fill="#c0c0c0" />
<rect x="97" y="608" width="1" height="42" fill="#c0c0c0" />
<rect x="105" y="610" width="1" height="40" fill="#c0c0c0" />
<rect x="113" y="614" width="1" height="36" fill="#c0c0c0" />
<rect x="121" y="619" width="1" height="31" fill="#c0c0c0" />
<rect x="129" y="622" width="1" height="28" fill="#c0c0c0" />
<rect x="137" y="626" width="1" height="24" fill="#c0c0c0" />
<rect x="145" y="628" width="1" height="22" fill="#c0c0c0" />
<rect x="153" y="624" width="1" height="26" fill="#c0c0c0" />
<rect x="161" y="622" width="1" height="28" fill="#c0c0c0" />
<rect x="169" y="623" width="1" height="27" fill="#c0c0c0" />
<rect x="177" y="626" width="1" height="24" fill="#c0c0c0" />
<rect x="185" y="630" width="1" height="20" fill="#c0c0c0" />
<rect x="193" y="637" width="1" height="13" fill="#c0c0c0" />
<rect x="201" y="641" width="1" height="9" fill="#c0c0c0" />
<rect x="209" y="647" width="1" height="3" fill="#c0c0c0" />
<rect x="217" y="649" width="1" height="1" fill="#c0c0c0" />
<rect x="225" y="649" width="1" height="3" fill="#c0c0c0" />
<rect x="233" y="649" width="1" height="6" fill="#c0c0c0" />
<rect x="241" y="649" width="1" height="8" fill="#c0c0c0" />
<rect x="249" y="649" width="1" height="19" fill="#c0c0c0" />
<rect x="257" y="649" width="1" height="29" fill="#c0c0c0" />
<rect x="265" y="649" width="1" height="36" fill="#c0c0c0" />
<rect x="273" y="649" width="1" height="48" fill="#c0c0c0" />
<rect x="281" y="649" width="1" height="61" fill="#c0c0c0" />
<rect x="289" y="649" width="1" height="59" fill="#c0c0c0" />
<rect x="297" y="649" width="1" height="59" fill="#c0c0c0" />
<rect x="305" y="649" width="1" height="59" fill="#c0c0c0" />
<rect x="313" y="649" width="1" height="59" fill="#c0c0c0" />
<rect x="321" y="649" width="1" height="63" fill="#c0c0c0" />
<rect x="329" y="649" width="1" height="64" fill="#c0c0c0" />
<rect x="337" y="649" width="1" height="53" fill="#c0c0c0" />
<rect x="345" y="649" width="1" height="42" fill="#c0c0c0" />
<rect x="353" y="649" width="1" height="34" fill="#c0c0c0" />
<rect x="361" y="649" width="1" height="27" fill="#c0c0c0" />
<rect x="369" y="649" width="1" height="16" fill="#c0c0c0" />
<rect x="377" y="649" width="1" height="9" fill="#c0c0c0" />
<rect x="385" y="649" width="1" height="2" fill="#c0c0c0" />
<rect x="393" y="642" width="1" height="8" fill="#c0c0c0" />
<rect x="401" y="637" width="1" height="13" fill="#c0c0c0" />
<rect x="409" y="630" width="1" height="20" fill="#c0c0c0" />
<rect x="417" y="625" width="1" height="25" fill="#c0c0c0" />
<rect x="425" y="622" width="1" height="28" fill="#c0c0c0" />
<rect x="433" y="620" width="1" height="30" fill="#c0c0c0" />
<rect x="441" y="619" width="1" height="31" fill="#c0c0c0" />
<rect x="449" y="619" width="1" height="31" fill="#c0c0c0" />
<rect x="457" y="619" width="1" height="31" fill="#c0c0c0" />
<rect x="465" y="621" width="1" height="29" fill="#c0c0c0" />
<rect x="473" y="622" width="1" height="28" fill="#c0c0c0" />
<rect x="481" y="622" width="1" height="28" fill="#c0c0c0" />
<rect x="489" y="619" width="1" height="31" fill="#c0c0c0" />
<rect x="497" y="620" width="1" height="30" fill="#c0c0c0" />
<rect x="505" y="620" width="1" height="30" fill="#c0c0c0" />
<rect x="513" y="622" width="1" height="28" fill="#c0c0c0" />
<rect x="521" y="622" width="1" height="28" fill="#c0c0c0" />
<rect x="529" y="622" width="1" height="28" fill="#c0c0c0" />
<rect x="537" y="626" width="1" height="24" fill="#c0c0c0" />
<rect x="545" y="633" width="1" height="17" fill="#c0c0c0" />
<rect x="553" y="639" width="1" height="11" fill="#c0c0c0" />
<rect x="561" y="643" width="1" height="7" fill="#c0c0c0" />
<rect x="569" y="643" width="1" height="7" fill="#c0c0c0" />
<rect x="577" y="645" width="1" height="5" fill="#c0c0c0" />
<rect x="585" y="641" width="1" height="9" fill="#c0c0c0" />
<rect x="593" y="638" width="1" height="12" fill="#c0c0c0" />
<rect x="601" y="638" width="1" height="12" fill="#c0c0c0" />
<rect x="609" y="633" width="1" height="17" fill="#c0c0c0" />
<rect x="617" y="632" width="1" height="18" fill="#c0c0c0" />
<rect x="625" y="631" width="1" height="19" fill="#c0c0c0" />
<rect x="633" y="630" width="1" height="20" fill="#c0c0c0" />
<rect x="641" y="629" width="1" height="21" fill="#c0c0c0" />
<rect x="649" y="632" width="1" height="18" fill="#c0c0c0" />
<rect x="657" y="633" width="1" height="17" fill="#c0c0c0" />
<rect x="665" y="634" width="1" height="16" fill="#c0c0c0" />
<rect x="673" y="633" width="1" height="17" fill="#c0c0c0" />
<rect x="681" y="636" width="1" height="14" fill="#c0c0c0" />
<rect x="689" y="636" width="1" height="14" fill="#c0c0c0" />
<rect x="697" y="639" width="1" height="11" fill="#c0c0c0" />
<rect x="705" y="639" width="1" height="11" fill="#c0c0c0" />
<rect x="713" y="638" width="1" height="12" fill="#c0c0c0" />
<rect x="721" y="636" width="1" height="14" fill="#c0c0c0" />
<rect x="729" y="635" width="1" height="15" fill="#c0c0c0" />
<rect x="737" y="639" width="1" height="11" fill="#c0c0c0" />
<rect x="745" y="643" width="1" height="7" fill="#c0c0c0" />
<rect x="753" y="647" width="1" height="3" fill="#c0c0c0" />
<rect x="761" y="649" width="1" height="1" fill="#c0c0c0" />
<rect x="769" y="649" width="1" height="1" fill="#c0c0c0" />
<rect x="777" y="649" width="1" height="1" fill="#c0c0c0" />
<rect x="785" y="648" width="1" height="2" fill="#c0c0c0" />
<rect x="793" y="646" width="1" height="4" fill="#c0c0c0" />
<rect x="801" y="645" width="1" height="5" fill="#c0c0c0" />
<rect x="809" y="642" width="1" height="8" fill="#c0c0c0" />
<rect x="817" y="640" width="1" height="10" fill="#c0c0c0" />
<rect x="825" y="639" width="1" height="11" fill="#c0c0c0" />
<rect x="833" y="643" width="1" height="7" fill="#c0c0c0" />
<rect x="841" y="645" width="1" height="5" fill="#c0c0c0" />
<rect x="849" y="647" width="1" height="3" fill="#c0c0c0" />
<rect x="857" y="649" width="1" height="1" fill="#c0c0c0" />
<rect x="865" y="649" width="1" height="1" fill="#c0c0c0" />
<rect x="873" y="649" width="1" height="1" fill="#c0c0c0" />
<rect x="881" y="648" width="1" height="2" fill="#c0c0c0" />
<rect x="889" y="646" width="1" height="4" fill="#c0c0c0" />
<rect x="897" y="645" width="1" height="5" fill="#c0c0c0" />
<rect x="905" y="646" width="1" height="4" fill="#c0c0c0" />
<rect x="913" y="647" width="1" height="3" fill="#c0c0c0" />
<rect x="921" y="647" width="1" height="3" fill="#c0c0c0" />
<rect x="929" y="648" width="1" height="2" fill="#c0c0c0" />
<rect x="937" y="649" width="1" height="7" fill="#c0c0c0" />
<rect x="945" y="649" width="1" height="15" fill="#c0c0c0" />
<rect x="953" y="649" width="1" height="22" fill="#c0c0c0" />
<rect x="961" y="649" width="1" height="25" fill="#c0c0c0" />
<rect x="969" y="649" width="1" height="34" fill="#c0c0c0" />
<rect x="977" y="649" width="1" height="35" fill="#c0c0c0" />
<rect x="985" y="649" width="1" height="40" fill="#c0c0c0" />
<rect x="993" y="649" width="1" height="41" fill="#c0c0c0" />
<rect x="1001" y="649" width="1" height="43" fill="#c0c0c0" />
<rect x="1009" y="649" width="1" height="45" fill="#c0c0c0" />
<rect x="1017" y="649" width="1" height="47" fill="#c0c0c0" />
<rect x="1025" y="649" width="1" height="45" fill="#c0c0c0" />
<rect x="1033" y="649" width="1" height="42" fill="#c0c0c0" />
<rect x="1041" y="649" width="1" height="43" fill="#c0c0c0" />
<rect x="1049" y="649" width="1" height="44" fill="#c0c0c0" />
<rect x="1057" y="649" width="1" height="43" fill="#c0c0c0" />
<rect x="1065" y="649" width="1" height="38" fill="#c0c0c0" />
<rect x="1073" y="649" width="1" height="34" fill="#c0c0c0" />
<rect x="1081" y="649" width="1" height="38" fill="#c0c0c0" />
<rect x="1089" y="649" width="1" height="45" fill="#c0c0c0" />
<rect x="1097" y="649" width="1" height="52" fill="#c0c0c0" />
<rect x="1105" y="649" width="1" height="52" fill="#c0c0c0" />
<rect x="1113" y="649" width="1" height="53" fill="#c0c0c0" />
<rect x="1121" y="649" width="1" height="51" fill="#c0c0c0" />
<rect x="1129" y="649" width="1" height="47" fill="#c0c0c0" />
<rect x="1137" y="649" width="1" height="44" fill="#c0c0c0" />
<rect x="1145" y="649" width="1" height="39" fill="#c0c0c0" />
<rect x="1153" y="649" width="1" height="33" fill="#c0c0c0" />
<rect x="1161" y="649" width="1" height="27" fill="#c0c0c0" />
<rect x="1169" y="649" width="1" height="24" fill="#c0c0c0" />
<rect x="1177" y="649" width="1" height="23" fill="#c0c0c0" />
<rect x="1185" y="649" width="1" height="27" fill="#c0c0c0" />
<rect x="1193" y="649" width="1" height="33" fill="#c0c0c0" />
<rect x="1201" y="649" width="1" height="39" fill="#c0c0c0" />
<rect x="1209" y="649" width="1" height="43" fill="#c0c0c0" />
<rect x="1217" y="649" width="1" height="47" fill="#c0c0c0" />
<rect x="1225" y="649" width="1" height="51" fill="#c0c0c0" />
<rect x="1233" y="649" width="1" height="49" fill="#c0c0c0" />
<rect x="1241" y="649" width="1" height="44" fill="#c0c0c0" />
<rect x="1249" y="649" width="1" height="38" fill="#c0c0c0" />
<rect x="1257" y="649" width="1" height="35" fill="#c0c0c0" />
<rect x="1265" y="649" width="1" height="31" fill="#c0c0c0" />
<rect x="1273" y="649" width="1" height="29" fill="#c0c0c0" />
<rect x="1281" y="649" width="1" height="32" fill="#c0c0c0" />
<rect x="1289" y="649" width="1" height="30" fill="#c0c0c0" />
<rect x="1297" y="649" width="1" height="29" fill="#c0c0c0" />
<rect x="1305" y="649" width="1" height="27" fill="#c0c0c0" />
<rect x="1313" y="649" width="1" height="24" fill="#c0c0c0" />
<rect x="1321" y="649" width="1" height="24" fill="#c0c0c0" />
<rect x="1329" y="649" width="1" height="29" fill="#c0c0c0" />
<rect x="1337" y="649" width="1" height="31" fill="#c0c0c0" />
<rect x="1345" y="649" width="1" height="33" fill="#c0c0c0" />
<rect x="1353" y="649" width="1" height="37" fill="#c0c0c0" />
<rect x="1361" y="649" width="1" height="43" fill="#c0c0c0" />
<rect x="1369" y="649" width="1" height="58" fill="#c0c0c0" />
<rect x="1377" y="649" width="1" height="71" fill="#c0c0c0" />
<rect x="1385" y="649" width="1" height="81" fill="#c0c0c0" />
<rect x="1393" y="649" width="1" height="88" fill="#c0c0c0" />
<rect x="1401" y="649" width="1" height="92" fill="#c0c0c0" />
<rect x="1409" y="649" width="1" height="93" fill="#c0c0c0" />
<rect x="1652" y="596" width="2" height="1" fill="#000" />
<rect x="1652" y="649" width="2" height="1" fill="#000" />
<rect x="1652" y="748" width="2" height="1" fill="#000" />
</g>
<polyline points="0.0,627.8 10.0,624.5 25.0,618.2 40.0,614.0 57.5,608.2 65.0,606.5 100.0,605.8 125.0,608.2 140.0,613.2 162.5,618.2 175.0,621.5 190.0,623.8 207.5,630.0 220.0,633.2 240.0,642.0 252.5,650.0 265.0,658.2 277.5,667.0 290.0,678.2 307.5,692.0 320.0,700.2 330.0,705.8 342.5,707.5 355.0,704.5 367.5,697.0 385.0,685.2 400.0,668.2 412.5,655.8 418.5,651.5 423.5,645.8 431.0,639.5 441.0,633.2 451.0,627.8 463.5,622.5 486.0,619.5 516.0,619.5 533.5,620.8 551.0,623.2 563.5,628.2 578.5,632.8 593.5,636.5 608.5,638.8 623.5,637.8 638.5,635.0 653.5,632.5 668.5,631.5 686.0,631.5 701.0,632.5 716.0,634.5 736.0,636.2 751.0,637.8 763.5,640.8 776.0,642.0 786.0,645.0 801.0,646.2 816.0,646.2 828.5,645.0 840.5,643.2 857.0,643.2 882.0,645.2 914.5,647.0 932.0,646.5 947.0,649.5 957.0,652.8 972.0,659.5 984.5,667.0 997.0,674.5 1007.0,682.0 1022.0,687.8 1032.0,690.8 1049.5,693.2 1059.5,693.2 1082.0,691.5 1092.0,690.8 1107.0,692.8 1127.0,695.0 1144.5,695.8 1162.0,693.2 1174.5,689.5 1187.0,684.5 1199.5,681.5 1212.0,681.5 1224.5,683.8 1237.0,687.0 1247.0,690.2 1258.0,692.0 1273.0,690.8 1288.0,687.0 1303.0,683.2 1320.5,679.0 1330.5,677.8 1355.5,678.8 1370.5,683.2 1380.5,690.8 1390.5,699.5 1400.5,708.2 1409.5,715.8" fill="none" stroke="#ff0000" stroke-width="1" stroke-dasharray="3 2.5" shape-rendering="crispEdges"/>
<text x="-2" y="606.5" font-size="10.2" fill="#000" textLength="133" lengthAdjust="spacingAndGlyphs" >MACD(12,26,9) -234.42 -167.09</text>
<text x="1656" y="604.8" font-size="10.2" fill="#000" textLength="27.5" lengthAdjust="spacingAndGlyphs" >134.62</text>
<text x="1656" y="652.6" font-size="10.2" fill="#000" textLength="18" lengthAdjust="spacingAndGlyphs" >0.00</text>
<text x="1656" y="746.3" font-size="10.2" fill="#000" textLength="19" lengthAdjust="spacingAndGlyphs" >-252</text>
<g stroke="#c0c0c0" stroke-width="1" stroke-dasharray="3 3" shape-rendering="crispEdges">
<line x1="0" y1="788.5" x2="1651" y2="788.5"/>
<line x1="0" y1="839.5" x2="1651" y2="839.5"/>
<line x1="0" y1="900.5" x2="1651" y2="900.5"/>
</g>
<polyline points="-6.5,798.8 1.5,798.2 9.5,797.0 17.5,796.2 25.5,796.2 33.5,795.0 41.5,820.0 49.5,809.5 57.5,809.5 65.5,809.5 73.5,806.2 81.5,804.0 89.5,806.2 97.5,812.5 105.5,815.5 113.5,822.5 121.5,838.8 129.5,829.5 137.5,836.2 145.5,830.0 153.5,810.5 161.5,815.5 169.5,825.0 177.5,835.0 185.5,840.5 193.5,854.5 201.5,847.5 209.5,855.5 217.5,844.5 225.5,852.5 233.5,851.2 241.5,847.5 249.5,872.0 257.5,874.5 265.5,873.2 273.5,885.5 281.5,888.8 289.5,855.5 297.5,857.5 305.5,861.8 313.5,859.5 321.5,867.5 329.5,864.2 337.5,836.8 345.5,836.2 353.5,837.5 361.5,835.5 369.5,827.5 377.5,830.5 385.5,826.2 393.5,820.5 401.5,824.2 409.5,820.8 417.5,820.5 425.5,821.5 433.5,821.5 441.5,823.2 449.5,824.5 457.5,823.2 465.5,829.5 473.5,826.2 481.5,824.2 489.5,815.5 497.5,825.5 505.5,823.2 513.5,829.5 521.5,826.2 529.5,822.5 537.5,837.5 545.5,850.5 553.5,851.8 561.5,844.5 569.5,838.2 577.5,842.0 585.5,826.8 593.5,825.0 601.5,827.5 609.5,821.5 617.5,823.2 625.5,824.5 633.5,824.5 641.5,822.5 649.5,836.2 657.5,834.2 665.5,830.0 673.5,825.5 681.5,841.2 689.5,832.5 697.5,840.0 705.5,833.8 713.5,830.0 721.5,824.2 729.5,828.0 737.5,846.2 745.5,848.2 753.5,848.8 761.5,853.2 769.5,841.2 777.5,839.2 785.5,828.2 793.5,830.5 801.5,833.8 809.5,825.0 817.5,826.2 825.5,829.5 833.5,847.0 841.5,843.2 849.5,845.5 857.5,850.5 865.5,842.0 873.5,834.2 881.5,832.0 889.5,831.2 897.5,831.2 905.5,839.2 913.5,837.2 921.5,839.2 929.5,839.2 937.5,874.5 945.5,873.2 953.5,877.5 961.5,870.8 969.5,880.5 977.5,861.8 985.5,871.2 993.5,860.5 1001.5,863.8 1009.5,867.5 1017.5,869.5 1025.5,855.5 1033.5,849.5 1041.5,863.8 1049.5,863.8 1057.5,853.0 1065.5,844.5 1073.5,845.8 1081.5,862.0 1089.5,872.5 1097.5,869.5 1105.5,859.2 1113.5,862.5 1121.5,855.0 1129.5,851.2 1137.5,848.2 1145.5,845.5 1153.5,840.8 1161.5,838.2 1169.5,843.8 1177.5,850.0 1185.5,859.5 1193.5,866.2 1201.5,870.8 1209.5,869.5 1217.5,871.2 1225.5,873.2 1233.5,858.2 1241.5,845.5 1249.5,842.8 1257.5,848.6 1265.5,844.9 1273.5,848.6 1281.5,860.0 1289.5,848.0 1297.5,851.2 1305.5,847.2 1313.5,843.3 1321.5,852.0 1329.5,861.3 1337.5,860.0 1345.5,861.8 1353.5,865.3 1361.5,879.9 1369.5,885.2 1377.5,890.0 1385.5,890.5 1393.5,890.5 1401.5,887.3 1409.5,886.5" fill="none" stroke="#1e90ff" stroke-width="1" stroke-linejoin="round" shape-rendering="crispEdges"/>
<text x="-2" y="764.5" font-size="10.2" fill="#000" textLength="67" lengthAdjust="spacingAndGlyphs" >RSI(14) 22.7521</text>
<g shape-rendering="crispEdges">
<rect x="1652" y="754" width="2" height="1" fill="#000" />
<rect x="1652" y="788" width="2" height="1" fill="#000" />
<rect x="1652" y="839" width="2" height="1" fill="#000" />
<rect x="1652" y="900" width="2" height="1" fill="#000" />
<rect x="1652" y="919" width="2" height="1" fill="#000" />
</g>
<text x="1656" y="762.3" font-size="10.2" fill="#000" textLength="14.5" lengthAdjust="spacingAndGlyphs" >100</text>
<text x="1656" y="792.3" font-size="10.2" fill="#000" textLength="10" lengthAdjust="spacingAndGlyphs" >80</text>
<text x="1656" y="843.3" font-size="10.2" fill="#000" textLength="10" lengthAdjust="spacingAndGlyphs" >50</text>
<text x="1656" y="904.3" font-size="10.2" fill="#000" textLength="10" lengthAdjust="spacingAndGlyphs" >15</text>
<text x="1656" y="923.3" font-size="10.2" fill="#000" textLength="5" lengthAdjust="spacingAndGlyphs" >0</text>
<g shape-rendering="crispEdges">
<rect x="57" y="927" width="1" height="3" fill="#000" />
<rect x="121" y="927" width="1" height="3" fill="#000" />
<rect x="185" y="927" width="1" height="3" fill="#000" />
<rect x="249" y="927" width="1" height="3" fill="#000" />
<rect x="313" y="927" width="1" height="3" fill="#000" />
<rect x="377" y="927" width="1" height="3" fill="#000" />
<rect x="441" y="927" width="1" height="3" fill="#000" />
<rect x="505" y="927" width="1" height="3" fill="#000" />
<rect x="569" y="927" width="1" height="3" fill="#000" />
<rect x="633" y="927" width="1" height="3" fill="#000" />
<rect x="697" y="927" width="1" height="3" fill="#000" />
<rect x="761" y="927" width="1" height="3" fill="#000" />
<rect x="825" y="927" width="1" height="3" fill="#000" />
<rect x="889" y="927" width="1" height="3" fill="#000" />
<rect x="953" y="927" width="1" height="3" fill="#000" />
<rect x="1017" y="927" width="1" height="3" fill="#000" />
<rect x="1081" y="927" width="1" height="3" fill="#000" />
<rect x="1145" y="927" width="1" height="3" fill="#000" />
<rect x="1209" y="927" width="1" height="3" fill="#000" />
<rect x="1273" y="927" width="1" height="3" fill="#000" />
<rect x="1337" y="927" width="1" height="3" fill="#000" />
<rect x="1401" y="927" width="1" height="3" fill="#000" />
</g>
<text x="-7.5" y="939.6" font-size="10.2" fill="#000" textLength="50.6" lengthAdjust="spacingAndGlyphs" >11 Aug 2021</text>
<text x="56.5" y="939.6" font-size="10.2" fill="#000" textLength="55.2" lengthAdjust="spacingAndGlyphs" >12 Aug 20:00</text>
<text x="120.5" y="939.6" font-size="10.2" fill="#000" textLength="55.2" lengthAdjust="spacingAndGlyphs" >16 Aug 00:00</text>
<text x="184.5" y="939.6" font-size="10.2" fill="#000" textLength="55.2" lengthAdjust="spacingAndGlyphs" >17 Aug 08:00</text>
<text x="248.5" y="939.6" font-size="10.2" fill="#000" textLength="55.2" lengthAdjust="spacingAndGlyphs" >18 Aug 16:00</text>
<text x="312.5" y="939.6" font-size="10.2" fill="#000" textLength="55.2" lengthAdjust="spacingAndGlyphs" >20 Aug 00:00</text>
<text x="376.5" y="939.6" font-size="10.2" fill="#000" textLength="55.2" lengthAdjust="spacingAndGlyphs" >23 Aug 04:00</text>
<text x="440.5" y="939.6" font-size="10.2" fill="#000" textLength="55.2" lengthAdjust="spacingAndGlyphs" >24 Aug 12:00</text>
<text x="504.5" y="939.6" font-size="10.2" fill="#000" textLength="55.2" lengthAdjust="spacingAndGlyphs" >25 Aug 20:00</text>
<text x="568.5" y="939.6" font-size="10.2" fill="#000" textLength="55.2" lengthAdjust="spacingAndGlyphs" >27 Aug 04:00</text>
<text x="632.5" y="939.6" font-size="10.2" fill="#000" textLength="55.2" lengthAdjust="spacingAndGlyphs" >30 Aug 08:00</text>
<text x="696.5" y="939.6" font-size="10.2" fill="#000" textLength="55.2" lengthAdjust="spacingAndGlyphs" >31 Aug 16:00</text>
<text x="760.5" y="939.6" font-size="10.2" fill="#000" textLength="50.6" lengthAdjust="spacingAndGlyphs" >2 Sep 00:00</text>
<text x="824.5" y="939.6" font-size="10.2" fill="#000" textLength="50.6" lengthAdjust="spacingAndGlyphs" >3 Sep 08:00</text>
<text x="888.5" y="939.6" font-size="10.2" fill="#000" textLength="50.6" lengthAdjust="spacingAndGlyphs" >6 Sep 12:00</text>
<text x="952.5" y="939.6" font-size="10.2" fill="#000" textLength="50.6" lengthAdjust="spacingAndGlyphs" >7 Sep 20:00</text>
<text x="1016.5" y="939.6" font-size="10.2" fill="#000" textLength="50.6" lengthAdjust="spacingAndGlyphs" >9 Sep 04:00</text>
<text x="1080.5" y="939.6" font-size="10.2" fill="#000" textLength="55.2" lengthAdjust="spacingAndGlyphs" >10 Sep 12:00</text>
<text x="1144.5" y="939.6" font-size="10.2" fill="#000" textLength="55.2" lengthAdjust="spacingAndGlyphs" >13 Sep 16:00</text>
<text x="1208.5" y="939.6" font-size="10.2" fill="#000" textLength="55.2" lengthAdjust="spacingAndGlyphs" >15 Sep 00:00</text>
<text x="1272.5" y="939.6" font-size="10.2" fill="#000" textLength="55.2" lengthAdjust="spacingAndGlyphs" >16 Sep 08:00</text>
<text x="1336.5" y="939.6" font-size="10.2" fill="#000" textLength="55.2" lengthAdjust="spacingAndGlyphs" >17 Sep 16:00</text>
<text x="1400.5" y="939.6" font-size="10.2" fill="#000" textLength="55.2" lengthAdjust="spacingAndGlyphs" >20 Sep 20:00</text>
<g shape-rendering="crispEdges">
<polygon points="1289.4,247.6 1293.2,246.3 1401.4,566 1397.4,566" fill="#ff0000"/>
<polygon points="1399.6,581.3 1391.6,565.2 1396,566.5 1403.2,562.6" fill="#ff0000"/>
<line x1="1400" y1="579" x2="1414.2" y2="479" stroke="#ff0000" stroke-width="3"/>
<polygon points="1415.6,469.4 1408.8,480.6 1412.5,479.6 1419.2,480.8" fill="#ff0000"/>
</g>
<g shape-rendering="crispEdges"><line x1="1426.1" y1="468.8" x2="1449.5" y2="490.1" stroke="#ff0000" stroke-width="3"/>
<polygon points="1455.8,495.8 1444.8,492.3 1451.2,485.2" fill="#ff0000"/></g>
<g shape-rendering="crispEdges"><line x1="1320.5" y1="664.5" x2="1436.5" y2="753.4" stroke="#ff0000" stroke-width="3.3"/>
<polygon points="1442.8,758.3 1432.0,756.0 1437.8,748.4" fill="#ff0000"/></g>
<g shape-rendering="crispEdges"><line x1="1311.1" y1="835.6" x2="1366.5" y2="886.9" stroke="#ff0000" stroke-width="3.2"/>
<polygon points="1372.4,892.3 1361.8,889.0 1368.3,882.0" fill="#ff0000"/></g>
<g shape-rendering="crispEdges"><line x1="1371.0" y1="891.5" x2="1411.3" y2="891.5" stroke="#ff0000" stroke-width="3"/>
<polygon points="1420.3,891.5 1409.3,895.8 1409.3,887.2" fill="#ff0000"/></g>
<defs><linearGradient id="gb" x1="0" y1="0" x2="0" y2="1"><stop offset="0" stop-color="#5858ff"/><stop offset="1" stop-color="#2a2ade"/></linearGradient><linearGradient id="gp" x1="0" y1="0" x2="0" y2="1"><stop offset="0" stop-color="#3c3cec"/><stop offset="0.55" stop-color="#1414c8"/><stop offset="1" stop-color="#0000a4"/></linearGradient><linearGradient id="gs" x1="0" y1="0" x2="0" y2="1"><stop offset="0" stop-color="#f4f4f4"/><stop offset="0.5" stop-color="#e2e2e2"/><stop offset="1" stop-color="#cfcfcf"/></linearGradient></defs>
<rect x="0" y="26" width="216" height="78" fill="#fff" />
<polygon points="0,33 3,35.5 0,35.5" fill="#000"/>
<text x="8.2" y="36.7" font-size="10.2" fill="#000" textLength="186" lengthAdjust="spacingAndGlyphs" >DJ30-,H4&#160;&#160;33849.0 33853.0 33849.0 33850.0</text>
<rect x="0" y="45" width="48" height="24" fill="url(#gb)" />
<rect x="163" y="45" width="52" height="24" fill="url(#gb)" />
<rect x="0" y="69" width="105" height="33" fill="url(#gp)" />
<rect x="107" y="69" width="108" height="33" fill="url(#gp)" />
<rect x="0" y="68" width="44" height="1" fill="#8c8cf4" />
<rect x="167" y="68" width="44" height="1" fill="#8c8cf4" />
<rect x="50.5" y="45.5" width="110" height="22" rx="2" fill="#fff" stroke="#a8a8a8" stroke-width="1"/>
<rect x="52" y="47" width="18" height="19" fill="url(#gs)" />
<rect x="141" y="47" width="18" height="19" fill="url(#gs)" />
<rect x="71" y="46" width="1" height="21" fill="#b4b4b4" />
<rect x="139" y="46" width="1" height="21" fill="#b4b4b4" />
<polygon points="58,54 64,54 61,57.5" fill="#4a5fc0"/><polygon points="147,57.5 153,57.5 150,54" fill="#4a5fc0"/>
<text x="135.5" y="60.3" font-size="12" fill="#000" text-anchor="end" textLength="23" lengthAdjust="spacingAndGlyphs" >1.00</text>
<text x="21.5" y="60.8" font-size="12.5" fill="#fff" text-anchor="middle" textLength="26" lengthAdjust="spacingAndGlyphs" >SELL</text>
<text x="188" y="60.8" font-size="12.5" fill="#fff" text-anchor="middle" textLength="23" lengthAdjust="spacingAndGlyphs" >BUY</text>
<text x="12.5" y="96.5" font-size="11.5" fill="#fff" textLength="34.5" lengthAdjust="spacingAndGlyphs" font-weight="bold" >33848</text>
<text x="122.5" y="96.5" font-size="11.5" fill="#fff" textLength="34" lengthAdjust="spacingAndGlyphs" font-weight="bold" >33857</text>
<rect x="51.5" y="93" width="3.2" height="3.6" fill="#fff" />
<rect x="162" y="93" width="3.2" height="3.6" fill="#fff" />
<text x="59" y="96.8" font-size="34" fill="#fff" textLength="14.5" lengthAdjust="spacingAndGlyphs" >5</text>
<text x="170.5" y="96.8" font-size="34" fill="#fff" textLength="14.5" lengthAdjust="spacingAndGlyphs" >5</text>
<rect x="0" y="0" width="1698" height="21" fill="#f0f0f0" />
<rect x="0" y="20" width="1698" height="1" fill="#f6f6f6" />
<rect x="0" y="21" width="1698" height="1" fill="#a6a6a6" />
<rect x="0" y="22" width="1698" height="1" fill="#6c6c6c" />
<rect x="0" y="23" width="1698" height="2" fill="#fff" />
<line x1="-1" y1="11" x2="4" y2="17.5" stroke="#c9a227" stroke-width="2.4"/><line x1="-2" y1="10" x2="1" y2="13" stroke="#8aa" stroke-width="2"/>
<polygon points="6.5,13 8,14.5 6.5,16 5,14.5" fill="#222"/>
<rect x="12" y="1" width="1" height="18" fill="#a0a0a0" shape-rendering="crispEdges"/>
<path d="M22.5,1.5 h7 l4,4 v9 h-11 z" fill="#fff" stroke="#6e6e6e"/><path d="M29.5,1.5 v4 h4" fill="#e8e8e8" stroke="#6e6e6e"/>
<g stroke="#777" stroke-width="1" shape-rendering="crispEdges"><line x1="25" y1="4.5" x2="29" y2="4.5"/><line x1="25" y1="7.5" x2="31" y2="7.5"/><line x1="25" y1="10.5" x2="29" y2="10.5"/></g>
<path d="M30.4,7.8 h3.2 v3.6 h3.6 v3.2 h-3.6 v3.6 h-3.2 v-3.6 h-3.6 v-3.2 h3.6 z" fill="#2fd02f" stroke="#0f8a0f" stroke-width="0.9"/>
<text x="40.3 52.4 64.5" y="12.536" font-size="12.2" fill="#000" style="font-family:'Liberation Sans','Noto Sans CJK SC',sans-serif">新订单</text>
<path d="M96,2 L105,9 L98.5,17 L89,10 Z" fill="#e9b93a" stroke="#a87412" stroke-width="1"/><path d="M96,2 L105,9 L103,11.5 L94,4.5 Z" fill="#f6dc86"/><path d="M89,10 L98.5,17 L100,15.5" fill="none" stroke="#8a5a0a" stroke-width="1.2"/>
<rect x="119.5" y="1.5" width="9" height="11" fill="#3b8fe8" stroke="#2a6cc0"/><rect x="122" y="4" width="5" height="2" fill="#cfe4ff"/><rect x="122" y="8" width="5" height="1" fill="#cfe4ff"/>
<path d="M120.3,16.6 a2.8,2.8 0 0 1 0,-5.6 a3.4,3.4 0 0 1 6,-1.2 a3,3 0 0 1 5,2.2 a2.3,2.3 0 0 1 -0.4,4.6 z" fill="#eef2fa" stroke="#8ea4cc" stroke-width="1"/>
<g fill="none" stroke-width="1.3"><circle cx="153" cy="9" r="7.3" stroke="#9db4e4"/><circle cx="153" cy="9" r="4.8" stroke="#6f92d8"/><circle cx="153" cy="9" r="2.2" stroke="#3a66c4"/></g><circle cx="153" cy="9" r="1.2" fill="#1d4fb8"/>
<path d="M153.4,9 L153.4,16.6 A7.6,7.6 0 0 0 160.6,9 Z" fill="#bcdcbc" stroke="none"/><path d="M153.5,9 L153.5,16.8 A7.6,7.6 0 0 0 158.6,14" fill="none" stroke="#2fa02f" stroke-width="1.5"/>
<path d="M174.5,7 L187.5,7 L184.5,13.5 L180.5,17.2 L177,13.5 Z" fill="#f6d768" stroke="#c89a1e" stroke-width=".8"/>
<ellipse cx="180.5" cy="5.5" rx="8" ry="2.6" fill="#5b9be0" stroke="#3b78c4" stroke-width=".8"/><path d="M176.5,5 a4.2,4 0 0 1 8,0 z" fill="#5b9be0" stroke="#3b78c4" stroke-width=".8"/>
<circle cx="185.2" cy="12.8" r="4.1" fill="#d42222" stroke="#a01010" stroke-width=".6"/><rect x="183.4" y="11" width="3.6" height="3.6" fill="#fff"/>
<text x="192.5 204.52 216.54 228.56" y="12.536" font-size="12.2" fill="#000" style="font-family:'Liberation Sans','Noto Sans CJK SC',sans-serif">自动交易</text>
<rect x="248" y="1" width="1" height="18" fill="#a0a0a0" shape-rendering="crispEdges"/>
<rect x="252" y="2" width="3" height="1" fill="#b4b4b4" shape-rendering="crispEdges"/>
<rect x="252" y="4" width="3" height="1" fill="#b4b4b4" shape-rendering="crispEdges"/>
<rect x="252" y="6" width="3" height="1" fill="#b4b4b4" shape-rendering="crispEdges"/>
<rect x="252" y="8" width="3" height="1" fill="#b4b4b4" shape-rendering="crispEdges"/>
<rect x="252" y="10" width="3" height="1" fill="#b4b4b4" shape-rendering="crispEdges"/>
<rect x="252" y="12" width="3" height="1" fill="#b4b4b4" shape-rendering="crispEdges"/>
<rect x="252" y="14" width="3" height="1" fill="#b4b4b4" shape-rendering="crispEdges"/>
<rect x="252" y="16" width="3" height="1" fill="#b4b4b4" shape-rendering="crispEdges"/>
<rect x="252" y="18" width="3" height="1" fill="#b4b4b4" shape-rendering="crispEdges"/>
<g stroke="#555" stroke-width="1" fill="none" shape-rendering="crispEdges"><line x1="266.5" y1="4" x2="266.5" y2="17"/><line x1="264" y1="14.5" x2="277" y2="14.5"/></g>
<polygon points="266.5,2.5 264.5,5.5 268.5,5.5" fill="#555"/><polygon points="278.5,14.5 275.5,12.5 275.5,16.5" fill="#555"/>
<path d="M273.5,4 v8.5 M273.5,5.5 h2.5 M271,11.5 h2.5" fill="none" stroke="#2a9a2a" stroke-width="1.2"/>
<rect x="286" y="1" width="1" height="18" fill="#a0a0a0" shape-rendering="crispEdges"/>
<rect x="287" y="0" width="25" height="20" fill="#fafafa" />
<g stroke="#555" stroke-width="1" fill="none" shape-rendering="crispEdges"><line x1="294.5" y1="4" x2="294.5" y2="17"/><line x1="292" y1="14.5" x2="305" y2="14.5"/></g>
<polygon points="294.5,2.5 292.5,5.5 296.5,5.5" fill="#555"/><polygon points="306.5,14.5 303.5,12.5 303.5,16.5" fill="#555"/>
<line x1="300.5" y1="1" x2="300.5" y2="13" stroke="#1a7a1a"/><rect x="298.5" y="3.5" width="4" height="7.5" fill="#35d435" stroke="#1a7a1a" stroke-width="1"/>
<g stroke="#555" stroke-width="1" fill="none" shape-rendering="crispEdges"><line x1="322.5" y1="4" x2="322.5" y2="17"/><line x1="320" y1="14.5" x2="333" y2="14.5"/></g>
<polygon points="322.5,2.5 320.5,5.5 324.5,5.5" fill="#555"/><polygon points="334.5,14.5 331.5,12.5 331.5,16.5" fill="#555"/>
<path d="M322,12.5 C325,9 327,5.5 329,6 C331,6.5 332,9.5 334,10.5" fill="none" stroke="#2a9a2a" stroke-width="1.2"/>
<rect x="343" y="1" width="1" height="18" fill="#a0a0a0" shape-rendering="crispEdges"/>
<line x1="361.0" y1="11" x2="367.0" y2="16.5" stroke="#d2a52a" stroke-width="2.6" stroke-linecap="round"/>
<circle cx="357.5" cy="7.5" r="5.2" fill="#dcefff" stroke="#3f7fd0" stroke-width="1.6"/>
<line x1="354.5" y1="7.5" x2="360.5" y2="7.5" stroke="#2f6fc4" stroke-width="1.8"/>
<line x1="357.5" y1="4.5" x2="357.5" y2="10.5" stroke="#2f6fc4" stroke-width="1.8"/>
<line x1="389.0" y1="11" x2="395.0" y2="16.5" stroke="#d2a52a" stroke-width="2.6" stroke-linecap="round"/>
<circle cx="385.5" cy="7.5" r="5.2" fill="#dcefff" stroke="#3f7fd0" stroke-width="1.6"/>
<line x1="382.5" y1="7.5" x2="388.5" y2="7.5" stroke="#2f6fc4" stroke-width="1.8"/>
<rect x="408" y="1" width="7.8" height="7.6" fill="#6aa81f" />
<rect x="409.2" y="4" width="5.2" height="2.6" fill="#fff" />
<rect x="410" y="5.2" width="1.2" height="1.4" fill="#6aa81f" />
<rect x="412.4" y="5.2" width="1.2" height="1.4" fill="#6aa81f" />
<rect x="416.5" y="1" width="7.8" height="7.6" fill="#2b5fd6" />
<rect x="417.7" y="4" width="5.2" height="2.6" fill="#fff" />
<rect x="418.5" y="5.2" width="1.2" height="1.4" fill="#2b5fd6" />
<rect x="420.9" y="5.2" width="1.2" height="1.4" fill="#2b5fd6" />
<rect x="408" y="9.2" width="7.8" height="7.6" fill="#2b5fd6" />
<rect x="409.2" y="12.2" width="5.2" height="2.6" fill="#fff" />
<rect x="410" y="13.399999999999999" width="1.2" height="1.4" fill="#2b5fd6" />
<rect x="412.4" y="13.399999999999999" width="1.2" height="1.4" fill="#2b5fd6" />
<rect x="416.5" y="9.2" width="7.8" height="7.6" fill="#6aa81f" />
<rect x="417.7" y="12.2" width="5.2" height="2.6" fill="#fff" />
<rect x="418.5" y="13.399999999999999" width="1.2" height="1.4" fill="#6aa81f" />
<rect x="420.9" y="13.399999999999999" width="1.2" height="1.4" fill="#6aa81f" />
<rect x="433" y="1" width="1" height="18" fill="#a0a0a0" shape-rendering="crispEdges"/>
<rect x="438" y="0" width="25" height="20" fill="#fafafa" />
<g stroke="#555" stroke-width="1" fill="none" shape-rendering="crispEdges"><line x1="446.5" y1="4" x2="446.5" y2="17"/><line x1="444" y1="14.5" x2="457" y2="14.5"/></g>
<polygon points="446.5,2.5 444.5,5.5 448.5,5.5" fill="#555"/><polygon points="458.5,14.5 455.5,12.5 455.5,16.5" fill="#555"/>
<path d="M451.5,5 v7.5 l4.5,-3.75 z" fill="#7be07b" stroke="#229a22" stroke-width="1"/>
<rect x="466" y="1" width="1" height="18" fill="#a0a0a0" shape-rendering="crispEdges"/>
<rect x="467" y="0" width="25" height="20" fill="#fafafa" />
<g stroke="#555" stroke-width="1" fill="none" shape-rendering="crispEdges"><line x1="474.5" y1="4" x2="474.5" y2="17"/><line x1="472" y1="14.5" x2="485" y2="14.5"/></g>
<polygon points="474.5,2.5 472.5,5.5 476.5,5.5" fill="#555"/><polygon points="486.5,14.5 483.5,12.5 483.5,16.5" fill="#555"/>
<line x1="480.5" y1="3" x2="480.5" y2="13.5" stroke="#2466a8" stroke-width="1.2"/><path d="M481.5,8.5 h5 M481.5,8.5 l2.6,-2.4 M481.5,8.5 l2.6,2.4" stroke="#e2561a" stroke-width="1.2" fill="none"/>
<rect x="495" y="1" width="1" height="18" fill="#a0a0a0" shape-rendering="crispEdges"/>
<path d="M505.5,1.5 h7 l4,4 v9 h-11 z" fill="#fff" stroke="#6e6e6e"/><path d="M512.5,1.5 v4 h4" fill="#e8e8e8" stroke="#6e6e6e"/>
<text x="507" y="11" font-size="8" font-style="italic" fill="#777">f</text>
<path d="M513.4,7.8 h3.2 v3.6 h3.6 v3.2 h-3.6 v3.6 h-3.2 v-3.6 h-3.6 v-3.2 h3.6 z" fill="#2fd02f" stroke="#0f8a0f" stroke-width="0.9"/>
<polygon points="526.5,8 532.5,8 529.5,11.2" fill="#000"/>
<circle cx="551" cy="9" r="7" fill="#f4f8ff" stroke="#1f62cc" stroke-width="2.4"/><path d="M551,4.5 V9 H554.5" fill="none" stroke="#444" stroke-width="1.2"/>
<polygon points="565.5,8 571.5,8 568.5,11.2" fill="#000"/>
<rect x="582.5" y="2.5" width="15" height="13.5" fill="#fff" stroke="#3f7fd0"/><rect x="583" y="3" width="14" height="2" fill="#3f7fd0"/><line x1="583" y1="10.5" x2="597" y2="10.5" stroke="#9db8e0"/>
<path d="M584,9 l3,-1.5 l3,.5 l3,-1.5 l3,-.5" fill="none" stroke="#b83a1a" stroke-width="1.2"/><path d="M584,14 l3,-1 l2,1 l3,-2 l4,1.5" fill="none" stroke="#2a9a2a" stroke-width="1.2"/>
<polygon points="604.5,8 610.5,8 607.5,11.2" fill="#000"/>
<rect x="617" y="1" width="1" height="18" fill="#a0a0a0" shape-rendering="crispEdges"/>
<rect x="620" y="2" width="3" height="1" fill="#b4b4b4" shape-rendering="crispEdges"/>
<rect x="620" y="4" width="3" height="1" fill="#b4b4b4" shape-rendering="crispEdges"/>
<rect x="620" y="6" width="3" height="1" fill="#b4b4b4" shape-rendering="crispEdges"/>
<rect x="620" y="8" width="3" height="1" fill="#b4b4b4" shape-rendering="crispEdges"/>
<rect x="620" y="10" width="3" height="1" fill="#b4b4b4" shape-rendering="crispEdges"/>
<rect x="620" y="12" width="3" height="1" fill="#b4b4b4" shape-rendering="crispEdges"/>
<rect x="620" y="14" width="3" height="1" fill="#b4b4b4" shape-rendering="crispEdges"/>
<rect x="620" y="16" width="3" height="1" fill="#b4b4b4" shape-rendering="crispEdges"/>
<rect x="620" y="18" width="3" height="1" fill="#b4b4b4" shape-rendering="crispEdges"/>
<rect x="627" y="0" width="25" height="20" fill="#fafafa" />
<path d="M635.5,3 v12 l2.8,-2.8 l2.3,4.6 l1.9,-1 l-2.3,-4.4 h3.9 z" fill="#333"/>
<g stroke="#555" stroke-width="1" shape-rendering="crispEdges"><line x1="659" y1="9.5" x2="665" y2="9.5"/><line x1="668" y1="9.5" x2="674" y2="9.5"/><line x1="666.5" y1="2" x2="666.5" y2="8"/><line x1="666.5" y1="11" x2="666.5" y2="17"/></g>
<rect x="683" y="1" width="1" height="18" fill="#a0a0a0" shape-rendering="crispEdges"/>
<g stroke="#555" stroke-width="1.2" fill="none"><line x1="700.5" y1="3" x2="700.5" y2="16"/><line x1="723" y1="9.5" x2="735" y2="9.5"/><line x1="751" y1="16" x2="763.5" y2="4"/></g>
<g stroke="#555" stroke-width="1" fill="none"><path d="M777,12 L789,3 M779,16 L792,6 M780,9 l1.5,5 M783,7 l1.5,5 M786,5 l1.5,5 M789,3 l1,4"/></g>
<text x="788.5" y="18.2" font-size="6.5" fill="#333" font-weight="bold" >E</text>
<g stroke="#555" stroke-width="1" stroke-dasharray="1 1" shape-rendering="crispEdges"><line x1="806" y1="2.5" x2="820" y2="2.5"/><line x1="806" y1="5.5" x2="820" y2="5.5"/><line x1="806" y1="9.5" x2="820" y2="9.5"/><line x1="806" y1="13.5" x2="815" y2="13.5"/></g>
<text x="816.5" y="18.2" font-size="6.5" fill="#333" font-weight="bold" >F</text>
<text x="836.8" y="13.6" font-size="12.5" fill="#555" >A</text>
<rect x="862.5" y="2.5" width="12" height="13" fill="none" stroke="#555" stroke-dasharray="1 1" shape-rendering="crispEdges"/>
<text x="868.5" y="13.5" font-size="11.5" fill="#444" text-anchor="middle" font-weight="bold" >T</text>
<path d="M894,3 l3,3 h-6 z M891,6 l3,2.2 l3,-2.2 z" fill="#333"/><path d="M901,15.5 l-3.4,-3 h6.8 z M897.6,12.5 l3.4,-2.2 l3.4,2.2 z" fill="#333"/><path d="M893,9.5 l2,2.5 l4,-5" fill="none" stroke="#333" stroke-width="1.2"/>
<polygon points="910.5,8 916.5,8 913.5,11.2" fill="#000"/>
<rect x="922" y="1" width="1" height="18" fill="#a0a0a0" shape-rendering="crispEdges"/>
<rect x="926" y="2" width="3" height="1" fill="#b4b4b4" shape-rendering="crispEdges"/>
<rect x="926" y="4" width="3" height="1" fill="#b4b4b4" shape-rendering="crispEdges"/>
<rect x="926" y="6" width="3" height="1" fill="#b4b4b4" shape-rendering="crispEdges"/>
<rect x="926" y="8" width="3" height="1" fill="#b4b4b4" shape-rendering="crispEdges"/>
<rect x="926" y="10" width="3" height="1" fill="#b4b4b4" shape-rendering="crispEdges"/>
<rect x="926" y="12" width="3" height="1" fill="#b4b4b4" shape-rendering="crispEdges"/>
<rect x="926" y="14" width="3" height="1" fill="#b4b4b4" shape-rendering="crispEdges"/>
<rect x="926" y="16" width="3" height="1" fill="#b4b4b4" shape-rendering="crispEdges"/>
<rect x="926" y="18" width="3" height="1" fill="#b4b4b4" shape-rendering="crispEdges"/>
<rect x="1073" y="0" width="24" height="20" fill="#fafafa" />
<text x="937.8" y="12.7" font-size="10" fill="#444" textLength="12.7" lengthAdjust="spacingAndGlyphs" >M1</text>
<text x="965.8" y="12.7" font-size="10" fill="#444" textLength="12.2" lengthAdjust="spacingAndGlyphs" >M5</text>
<text x="991.8" y="12.7" font-size="10" fill="#444" textLength="17.3" lengthAdjust="spacingAndGlyphs" >M15</text>
<text x="1020" y="12.7" font-size="10" fill="#444" textLength="17.5" lengthAdjust="spacingAndGlyphs" >M30</text>
<text x="1050.5" y="12.7" font-size="10" fill="#444" textLength="12" lengthAdjust="spacingAndGlyphs" >H1</text>
<text x="1077.8" y="12.7" font-size="10" fill="#444" textLength="12.2" lengthAdjust="spacingAndGlyphs" >H4</text>
<text x="1106.5" y="12.7" font-size="10" fill="#444" textLength="12" lengthAdjust="spacingAndGlyphs" >D1</text>
<text x="1134.4" y="12.7" font-size="10" fill="#444" textLength="13.6" lengthAdjust="spacingAndGlyphs" >W1</text>
<text x="1161" y="12.7" font-size="10" fill="#444" textLength="14.4" lengthAdjust="spacingAndGlyphs" >MN</text>
<rect x="1072" y="1" width="1" height="18" fill="#a0a0a0" shape-rendering="crispEdges"/>
<rect x="1183" y="1" width="1" height="18" fill="#a0a0a0" shape-rendering="crispEdges"/>
<line x1="1651.5" y1="8.5" x2="1646.2" y2="13.8" stroke="#2f62d0" stroke-width="2.2" stroke-linecap="round"/><circle cx="1654.3" cy="5.8" r="3.6" fill="#f4f8ff" stroke="#2f62d0" stroke-width="1.7"/>
<path d="M1670,10.5 a6,4.8 0 1 1 5,4.7 l-2.2,2.6 l.2,-3 a6,4.8 0 0 1 -3,-4.3 z" fill="#ececec" stroke="#b4b4b4" stroke-width="1"/>
<circle cx="1684.3" cy="6.3" r="7.9" fill="#e2321f"/>
<text x="1684.2" y="10.4" font-size="11.5" fill="#fff" text-anchor="middle" >1</text>
</svg>
</body></html>
